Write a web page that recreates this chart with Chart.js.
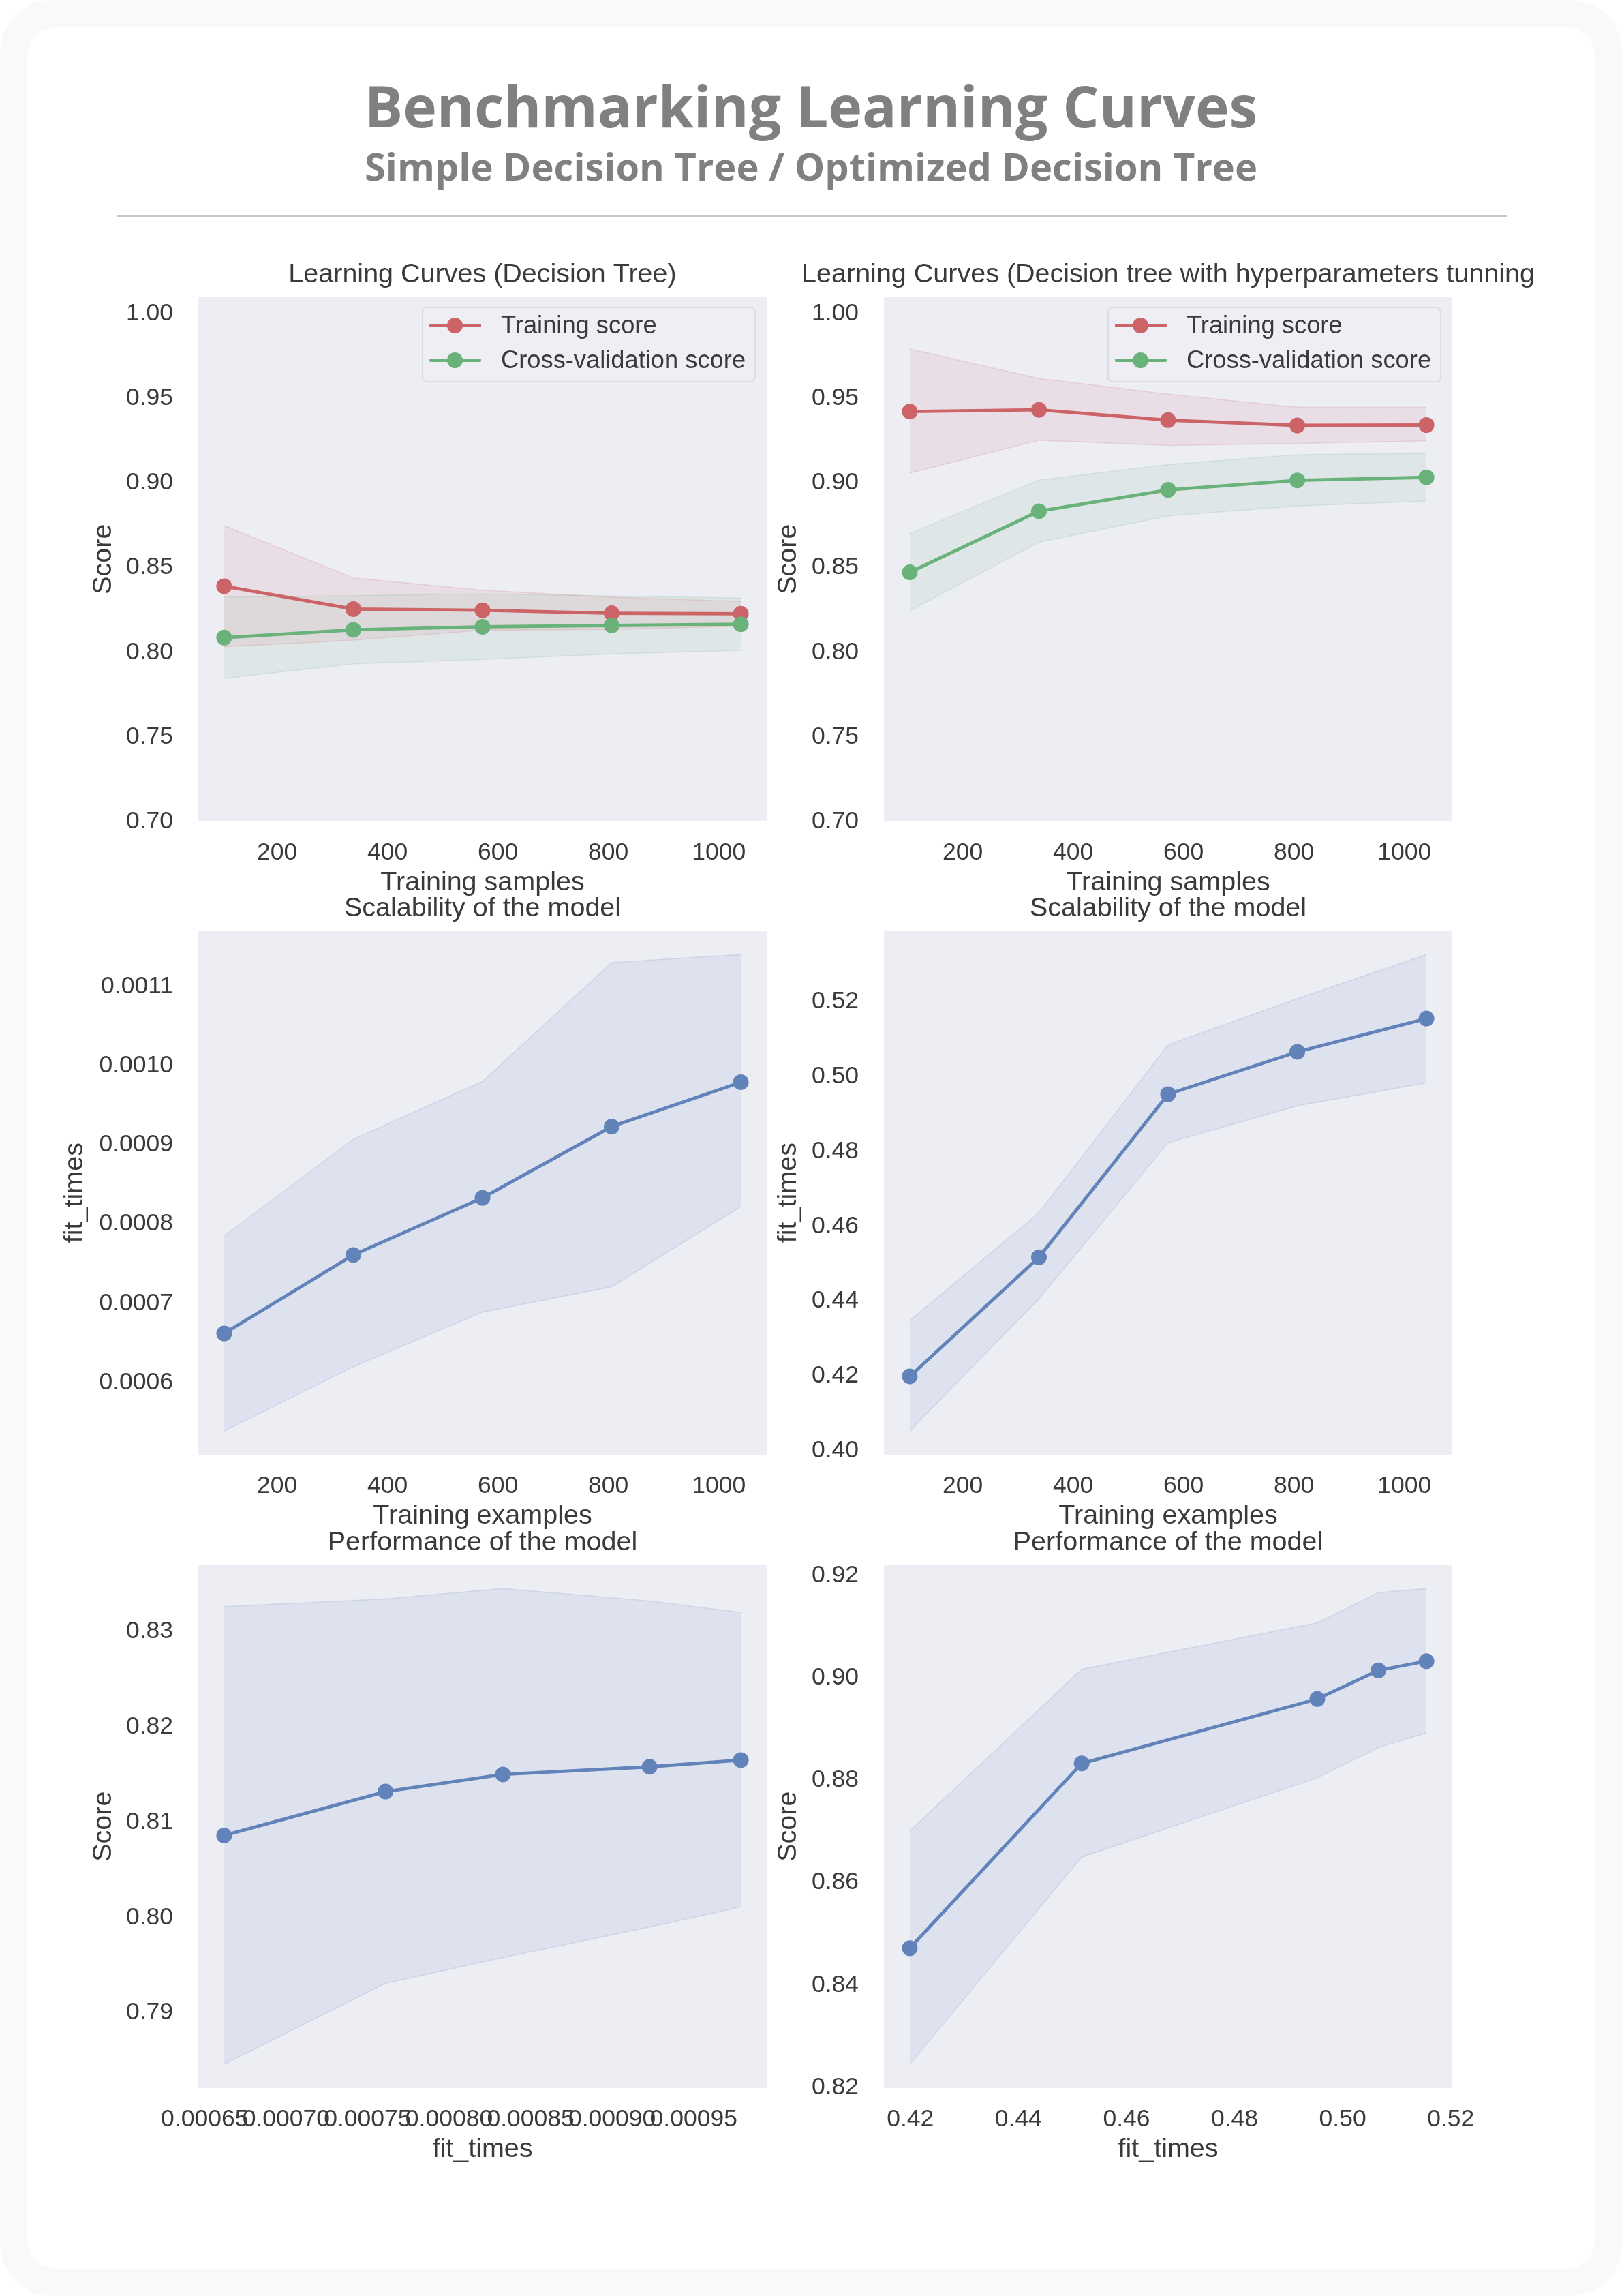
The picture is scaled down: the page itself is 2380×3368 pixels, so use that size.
<!DOCTYPE html>
<html>
<head>
<meta charset="utf-8">
<script src="https://cdn.jsdelivr.net/npm/chart.js@4.4.0/dist/chart.umd.min.js"></script>
<style>
html,body{margin:0;padding:0;background:#ffffff;}
#page{position:relative;width:2380px;height:3368px;overflow:hidden;}
#outer{position:absolute;left:0;top:0;width:2380px;height:3368px;background:#f9f9f9;border-radius:76px;}
#card{position:absolute;left:40px;top:40px;width:2300px;height:3288px;background:#ffffff;border-radius:40px;}
.hdr{position:absolute;left:0;width:2380px;text-align:center;font-family:'Open Sans',sans-serif;font-weight:700;color:#808080;line-height:1;white-space:nowrap;}
#t1{top:113px;font-size:84px;}
#t2{top:215px;font-size:56px;}
#rule{position:absolute;left:171px;top:316px;width:2040px;height:3px;background:#c8c8c8;}
canvas{position:absolute;}
.legend{position:absolute;width:490px;height:111px;box-sizing:border-box;border:2.5px solid #dcdce1;border-radius:8px;background:rgba(237,237,244,0.8);}
.li{position:absolute;left:0;width:100%;height:0;}
.ln{position:absolute;left:9px;width:76px;height:5px;top:-2.5px;border-radius:2px;}
.mk{position:absolute;left:35px;width:23px;height:23px;top:-11.5px;border-radius:50%;}
.lt{position:absolute;left:114px;top:-21px;font-family:'Liberation Sans',Arial,sans-serif;font-size:36.3px;line-height:42px;color:#3a3a3a;white-space:nowrap;}
</style>
</head>
<body>
<div id="page">
  <div id="outer"></div>
  <div id="card"></div>
  <div class="hdr" id="t1">Benchmarking Learning Curves</div>
  <div class="hdr" id="t2">Simple Decision Tree / Optimized Decision Tree</div>
  <div id="rule"></div>
</div>
<script>
// ---------------- data ----------------
const trainSizes = [104, 338, 572, 806, 1040];

// Simple decision tree
const simpleTrainMean  = [0.8390, 0.8255, 0.8248, 0.8230, 0.8227];
const simpleTrainUpper = [0.8748, 0.8439, 0.8366, 0.8325, 0.8300];
const simpleTrainLower = [0.8032, 0.8071, 0.8130, 0.8135, 0.8154];
const simpleCvMean     = [0.8086, 0.8132, 0.8150, 0.8158, 0.8165];
const simpleCvUpper    = [0.8326, 0.8334, 0.8345, 0.8332, 0.8320];
const simpleCvLower    = [0.7846, 0.7931, 0.7958, 0.7990, 0.8011];
const simpleFitMean    = [0.000662, 0.000761, 0.000833, 0.000923, 0.000979];
const simpleFitUpper   = [0.000785, 0.000907, 0.000980, 0.001130, 0.001140];
const simpleFitLower   = [0.000539, 0.000620, 0.000689, 0.000721, 0.000822];

// Optimized decision tree
const optTrainMean  = [0.9422, 0.9432, 0.9371, 0.9340, 0.9342];
const optTrainUpper = [0.9791, 0.9617, 0.9524, 0.9447, 0.9447];
const optTrainLower = [0.9058, 0.9252, 0.9221, 0.9233, 0.9248];
const optCvMean     = [0.8472, 0.8833, 0.8959, 0.9015, 0.9033];
const optCvUpper    = [0.8701, 0.9017, 0.9108, 0.9167, 0.9175];
const optCvLower    = [0.8245, 0.8650, 0.8805, 0.8864, 0.8893];
const optFitMean    = [0.4199, 0.4517, 0.4953, 0.5066, 0.5155];
const optFitUpper   = [0.4348, 0.4636, 0.5085, 0.5208, 0.5326];
const optFitLower   = [0.4053, 0.4406, 0.4823, 0.4922, 0.4983];

const seriesNames = ['Training score', 'Cross-validation score'];
const subplotTitles = [
  'Learning Curves (Decision Tree)',
  'Learning Curves (Decision tree with hyperparameters tunning',
  'Scalability of the model', 'Scalability of the model',
  'Performance of the model', 'Performance of the model'
];
const xTitles = ['Training samples', 'Training samples', 'Training examples', 'Training examples', 'fit_times', 'fit_times'];
const yTitles = ['Score', 'Score', 'fit_times', 'fit_times', 'Score', 'Score'];

// tick labels
const ticksScoreY      = ['0.70', '0.75', '0.80', '0.85', '0.90', '0.95', '1.00'];
const ticksSizeX       = ['200', '400', '600', '800', '1000'];
const ticksFitSimpleY  = ['0.0006', '0.0007', '0.0008', '0.0009', '0.0010', '0.0011'];
const ticksFitOptY     = ['0.40', '0.42', '0.44', '0.46', '0.48', '0.50', '0.52'];
const ticksPerfSimpleX = ['0.00065', '0.00070', '0.00075', '0.00080', '0.00085', '0.00090', '0.00095'];
const ticksPerfSimpleY = ['0.79', '0.80', '0.81', '0.82', '0.83'];
const ticksPerfOptX    = ['0.42', '0.44', '0.46', '0.48', '0.50', '0.52'];
const ticksPerfOptY    = ['0.82', '0.84', '0.86', '0.88', '0.90', '0.92'];
const scoreYLim = [0.70, 1.01];

// ---------------- style ----------------
const RED = [203, 99, 103], GREEN = [105, 178, 122], BLUE = [97, 131, 185];
const PLOT_BG = '#EDEDF4';
const TEXT = '#3a3a3a';
const FONT = "'Liberation Sans', Arial, sans-serif";
const rgb = (c, a) => `rgba(${c[0]},${c[1]},${c[2]},${a})`;
const TITLE_SIZE = 39.5, TICK_SIZE = 35.5;
const TITLE_H = 56, XAXIS_H = 114, PLOT_W = 834;

Chart.defaults.font.family = FONT;
Chart.defaults.color = TEXT;

const plotBg = {
  id: 'plotBg',
  beforeDraw(chart) {
    const a = chart.chartArea, ctx = chart.ctx;
    ctx.save();
    ctx.fillStyle = PLOT_BG;
    ctx.fillRect(a.left, a.top, a.right - a.left, a.bottom - a.top);
    ctx.restore();
  }
};

function pad5(vals) {
  const mn = Math.min(...vals), mx = Math.max(...vals), r = mx - mn;
  return [mn - 0.05 * r, mx + 0.05 * r];
}
const pts = (xs, ys) => xs.map((x, i) => ({x: x, y: ys[i]}));

function bandSets(xs, lo, hi, color, loIndex) {
  return [
    {data: pts(xs, hi), borderColor: rgb(color, 0.18), borderWidth: 1.5, pointRadius: 0,
     backgroundColor: rgb(color, 0.1), fill: loIndex},
    {data: pts(xs, lo), borderColor: rgb(color, 0.18), borderWidth: 1.5, pointRadius: 0, fill: false}
  ];
}
function lineSet(xs, ys, color, label) {
  return {label: label, data: pts(xs, ys), borderColor: rgb(color, 1), backgroundColor: rgb(color, 1),
          borderWidth: 4.8, pointRadius: 11.5, pointBorderWidth: 0, pointBackgroundColor: rgb(color, 1), fill: false};
}

function axisCfg(labels, lim, isX, titleText, titlePad, width) {
  const vals = labels.map(parseFloat);
  const cfg = {
    type: 'linear', min: lim[0], max: lim[1],
    position: isX ? 'bottom' : 'left',
    grid: {display: false, drawTicks: false},
    border: {display: false},
    ticks: {
      autoSkip: false, maxRotation: 0, minRotation: 0,
      padding: isX ? 25 : 37,
      font: {size: TICK_SIZE}, color: TEXT,
      callback: (v, i) => labels[i]
    },
    afterBuildTicks: s => { s.ticks = vals.map(v => ({value: v})); },
    title: {display: true, text: titleText, color: TEXT, font: {size: TITLE_SIZE},
            padding: isX ? {top: 0, bottom: 0} : {top: titlePad, bottom: 0}}
  };
  cfg.afterFit = isX ? (s => { s.height = XAXIS_H; }) : (s => { s.width = width; });
  return cfg;
}

const page = document.getElementById('page');

function makeChart(k, g, datasets, xTicks, xLim, yTicks, yLim) {
  const yW = g.plotLeft - g.left;
  const W = yW * 2 + PLOT_W;
  const H = TITLE_H + g.plotH + XAXIS_H;
  const c = document.createElement('canvas');
  c.width = W; c.height = H;
  c.style.left = g.left + 'px';
  c.style.top = (g.plotTop - TITLE_H) + 'px';
  c.style.width = W + 'px';
  c.style.height = H + 'px';
  page.appendChild(c);
  new Chart(c, {
    type: 'line',
    data: {datasets: datasets},
    plugins: [plotBg],
    options: {
      responsive: false, animation: false, devicePixelRatio: 1, events: [],
      layout: {padding: 0},
      datasets: {line: {tension: 0, clip: false}},
      plugins: {
        legend: {display: false}, tooltip: {enabled: false},
        filler: {drawTime: 'beforeDatasetsDraw'},
        title: {display: true, text: subplotTitles[k], color: TEXT, font: {size: TITLE_SIZE, weight: 'normal'},
                padding: {top: 0, bottom: TITLE_H - TITLE_SIZE * 1.2}}
      },
      scales: {
        x: axisCfg(xTicks, xLim, true, xTitles[k], 0, 0),
        y: axisCfg(yTicks, yLim, false, yTitles[k], g.yTitlePad, yW),
        yR: {type: 'linear', position: 'right', display: true,
             grid: {display: false, drawTicks: false}, border: {display: false},
             ticks: {display: false}, afterFit: s => { s.width = yW; }}
      }
    }
  });
}

function makeLegend(g, colors) {
  const lg = document.createElement('div');
  lg.className = 'legend';
  lg.style.left = (g.plotLeft + PLOT_W - 16 - 490) + 'px';
  lg.style.top = (g.plotTop + 17) + 'px';
  const rows = [27.5, 78.5];
  seriesNames.forEach((name, i) => {
    const li = document.createElement('div');
    li.className = 'li';
    li.style.top = (rows[i] - 2.5) + 'px';
    const col = rgb(colors[i], 1);
    li.innerHTML = `<span class="ln" style="background:${col}"></span><span class="mk" style="background:${col}"></span><span class="lt"></span>`;
    li.querySelector('.lt').textContent = name;
    lg.appendChild(li);
  });
  page.appendChild(lg);
}

// ---------------- layout of the six panels ----------------
const G = [
  {left: 80,   plotLeft: 291,  plotTop: 433,  plotH: 772, yTitlePad: 48},
  {left: 1100, plotLeft: 1297, plotTop: 433,  plotH: 772, yTitlePad: 33},
  {left: 80,   plotLeft: 291,  plotTop: 1363, plotH: 771, yTitlePad: 6},
  {left: 1100, plotLeft: 1297, plotTop: 1363, plotH: 771, yTitlePad: 33},
  {left: 80,   plotLeft: 291,  plotTop: 2293, plotH: 770, yTitlePad: 48},
  {left: 1100, plotLeft: 1297, plotTop: 2293, plotH: 770, yTitlePad: 33}
];

const sizeLim = pad5(trainSizes);

// 1: learning curve simple
makeChart(0, G[0], [
  ...bandSets(trainSizes, simpleTrainLower, simpleTrainUpper, RED, 1),
  ...bandSets(trainSizes, simpleCvLower, simpleCvUpper, GREEN, 3),
  lineSet(trainSizes, simpleCvMean, GREEN, seriesNames[1]),
  lineSet(trainSizes, simpleTrainMean, RED, seriesNames[0])
], ticksSizeX, sizeLim, ticksScoreY, scoreYLim);

// 2: learning curve optimized
makeChart(1, G[1], [
  ...bandSets(trainSizes, optTrainLower, optTrainUpper, RED, 1),
  ...bandSets(trainSizes, optCvLower, optCvUpper, GREEN, 3),
  lineSet(trainSizes, optCvMean, GREEN, seriesNames[1]),
  lineSet(trainSizes, optTrainMean, RED, seriesNames[0])
], ticksSizeX, sizeLim, ticksScoreY, scoreYLim);

// 3: scalability simple
makeChart(2, G[2], [
  ...bandSets(trainSizes, simpleFitLower, simpleFitUpper, BLUE, 1),
  lineSet(trainSizes, simpleFitMean, BLUE, 'fit_times')
], ticksSizeX, sizeLim, ticksFitSimpleY, pad5([...simpleFitLower, ...simpleFitUpper]));

// 4: scalability optimized
makeChart(3, G[3], [
  ...bandSets(trainSizes, optFitLower, optFitUpper, BLUE, 1),
  lineSet(trainSizes, optFitMean, BLUE, 'fit_times')
], ticksSizeX, sizeLim, ticksFitOptY, pad5([...optFitLower, ...optFitUpper]));

// 5: performance simple
makeChart(4, G[4], [
  ...bandSets(simpleFitMean, simpleCvLower, simpleCvUpper, BLUE, 1),
  lineSet(simpleFitMean, simpleCvMean, BLUE, 'Score')
], ticksPerfSimpleX, pad5(simpleFitMean), ticksPerfSimpleY, pad5([...simpleCvLower, ...simpleCvUpper]));

// 6: performance optimized
makeChart(5, G[5], [
  ...bandSets(optFitMean, optCvLower, optCvUpper, BLUE, 1),
  lineSet(optFitMean, optCvMean, BLUE, 'Score')
], ticksPerfOptX, pad5(optFitMean), ticksPerfOptY, pad5([...optCvLower, ...optCvUpper]));

makeLegend(G[0], [RED, GREEN]);
makeLegend(G[1], [RED, GREEN]);
</script>
</body>
</html>
